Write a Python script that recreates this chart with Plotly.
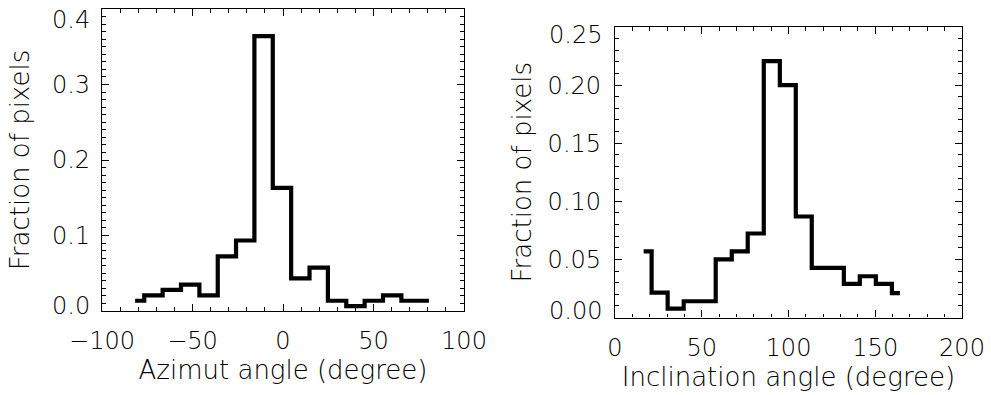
import plotly.graph_objects as go

# Azimut histogram (bin centres in degrees, fraction of pixels)
azimut_centers = [-81.7, -71.6, -61.4, -51.3, -41.1, -31.0, -20.9, -10.7, -0.6,
                  9.6, 19.7, 29.9, 40.0, 50.2, 60.3, 70.5, 80.6]
azimut_fraction = [0.0136, 0.0208, 0.028, 0.035, 0.0208, 0.0723, 0.0934, 0.364, 0.163,
                   0.0432, 0.0575, 0.0136, 0.0064, 0.0136, 0.0208, 0.0136, 0.0136]

# Inclination histogram
incl_centers = [16.5, 25.7, 35.0, 44.2, 53.4, 62.7, 71.9, 81.1, 90.4, 99.6,
                108.8, 118.0, 127.3, 136.5, 145.7, 155.0, 164.2]
incl_fraction = [0.0569, 0.0214, 0.0077, 0.014, 0.014, 0.05, 0.0569, 0.0723, 0.2206, 0.200,
                 0.0869, 0.0427, 0.0427, 0.0289, 0.0355, 0.0289, 0.0209]

left_xticks = [-100, -50, 0, 50, 100]
left_yticks = [0.0, 0.1, 0.2, 0.3, 0.4]
left_ylabels = ["0.0", "0.1", "0.2", "0.3", "0.4"]
right_xticks = [0, 50, 100, 150, 200]
right_yticks = [0.0, 0.05, 0.10, 0.15, 0.20, 0.25]
right_ylabels = ["0.00", "0.05", "0.10", "0.15", "0.20", "0.25"]

W, H = 991, 395
FONT = dict(family="DejaVu Sans", size=24, color="#000000", weight=200)
TITLE_FONT = dict(family="DejaVu Sans", size=26, color="#000000", weight=200)

fig = go.Figure()
fig.add_trace(go.Scatter(x=azimut_centers, y=azimut_fraction, mode="lines",
                         line=dict(shape="hvh", color="black", width=4.2),
                         xaxis="x", yaxis="y", showlegend=False))
fig.add_trace(go.Scatter(x=incl_centers, y=incl_fraction, mode="lines",
                         line=dict(shape="hvh", color="black", width=4.2),
                         xaxis="x2", yaxis="y2", showlegend=False))


def axis_common(**kw):
    d = dict(showgrid=False, zeroline=False, showline=True, linecolor="black",
             linewidth=1.3, mirror="allticks", ticks="inside", ticklen=7,
             tickwidth=1, tickcolor="black", automargin=False, tickfont=FONT,
             ticklabeloverflow="allow")
    d.update(kw)
    return d


MINOR_X = dict(dtick=10, ticks="inside", ticklen=3.5, tickcolor="black", tickwidth=1)
MINOR_Y = dict(dtick=0.01, ticks="inside", ticklen=3.5, tickcolor="black", tickwidth=1)

# end labels are nudged inward (as IDL does), so they are drawn as annotations
left_text = [""] + left_ylabels[1:-1] + [""]
right_text = [""] + right_ylabels[1:-1] + [""]

annotations = []
for ax, yv, lab, shift, xs in [
    ("", left_yticks[0], left_ylabels[0], 5, -10),
    ("", left_yticks[-1], left_ylabels[-1], -11, -10),
    ("2", right_yticks[0], right_ylabels[0], 7, -11),
    ("2", right_yticks[-1], right_ylabels[-1], -8, -11),
]:
    annotations.append(dict(text=lab, xref=f"x{ax} domain", yref=f"y{ax}", x=0, y=yv,
                            xanchor="right", yanchor="middle", xshift=xs, yshift=shift,
                            showarrow=False, font=FONT))

fig.update_layout(
    width=W, height=H,
    margin=dict(l=0, r=0, t=0, b=0),
    paper_bgcolor="white", plot_bgcolor="white",
    annotations=annotations,
    xaxis=axis_common(domain=[102 / W, 464 / W], anchor="y", range=[-100, 100],
                      tickvals=left_xticks, ticklabelstandoff=8, minor=MINOR_X,
                      title=dict(text="Azimut angle (degree)", font=TITLE_FONT, standoff=6)),
    yaxis=axis_common(domain=[84 / H, 386 / H], anchor="x", range=[0, 0.4000001],
                      tickvals=left_yticks, ticktext=left_text, ticklabelstandoff=6, minor=MINOR_Y,
                      title=dict(text="Fraction of pixels", font=TITLE_FONT, standoff=14)),
    xaxis2=axis_common(domain=[615 / W, 962 / W], anchor="y2", range=[0, 200],
                       tickvals=right_xticks, ticklabelstandoff=9, minor=MINOR_X,
                       title=dict(text="Inclination angle (degree)", font=TITLE_FONT, standoff=4)),
    yaxis2=axis_common(domain=[77.5 / H, 368 / H], anchor="x2", range=[0, 0.2500001],
                       tickvals=right_yticks, ticktext=right_text, ticklabelstandoff=8, minor=MINOR_Y,
                       title=dict(text="Fraction of pixels", font=TITLE_FONT, standoff=8)),
)

fig.write_html("out.html")
